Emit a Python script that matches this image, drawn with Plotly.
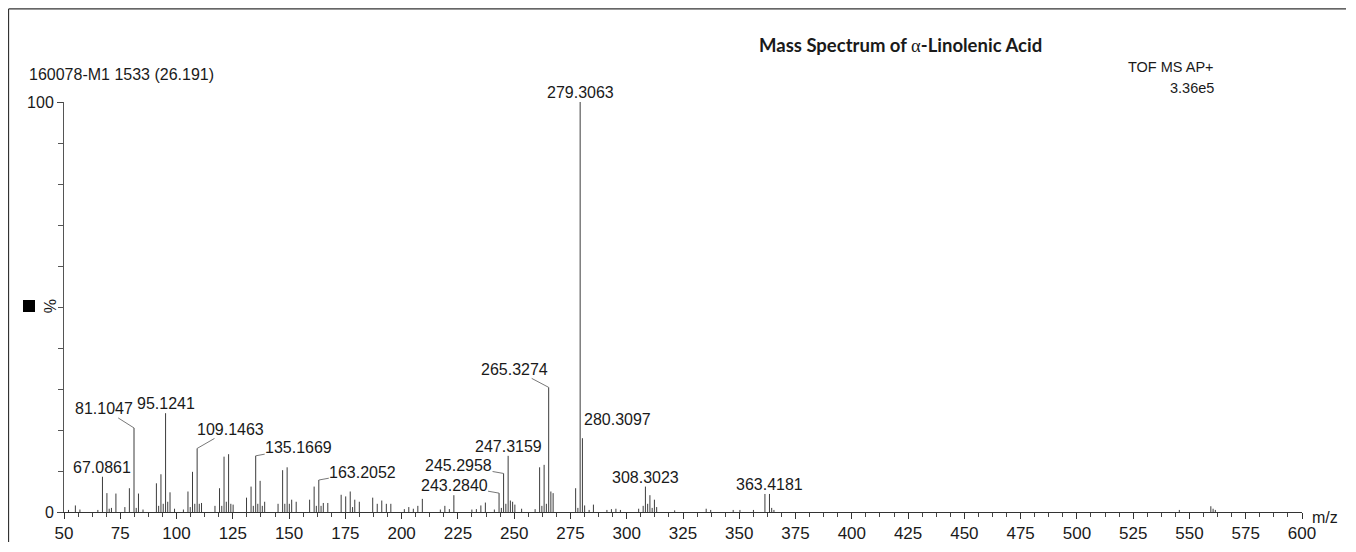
import plotly.graph_objects as go

# ---------------- data ----------------
# labelled peaks: m/z and relative intensity (%)
label_mz = [67.0861, 81.1047, 95.1241, 109.1463, 135.1669, 163.2052,
            243.2840, 245.2958, 247.3159, 265.3274, 279.3063, 280.3097,
            308.3023, 363.4181]
label_int = [8.6, 20.5, 24.1, 15.5, 13.7, 7.8,
             4.6, 9.4, 13.7, 30.4, 100.0, 18.0,
             6.2, 4.4]

# unlabelled peaks
minor_mz = [52.0, 55.05, 57.07, 65.04, 69.07, 70.07, 71.08, 73.06, 77.04, 79.05,
            82.08, 83.09, 85.1, 91.05, 92.06, 93.07, 94.08, 96.09, 97.1, 99.1,
            103.05, 105.07, 106.08, 107.09, 108.1, 110.1, 111.1, 117.07, 119.09, 120.09,
            121.1, 122.1, 123.12, 124.12, 125.13, 131.09, 133.1, 134.1, 136.1, 137.13,
            138.1, 139.15, 145.1, 147.12, 148.1, 149.13, 150.1, 151.15, 153.16, 159.12,
            161.13, 162.1, 164.2, 165.2, 167.2, 173.13, 175.15, 177.16, 178.2, 179.18,
            181.2, 187.15, 189.16, 191.18, 193.2, 195.2, 201.2, 203.18, 205.2, 207.2,
            209.2, 217.2, 219.2, 221.2, 223.2, 231.2, 233.2, 235.2, 237.2, 241.2,
            244.3, 246.3, 248.3, 249.3, 250.3, 253.3, 259.3, 261.3, 262.3, 263.3,
            264.3, 266.3, 267.3, 277.3, 278.3, 281.3, 283.3, 285.2, 291.2, 293.2,
            295.2, 297.2, 305.3, 307.3, 309.3, 310.3, 311.3, 312.3, 313.3, 321.3,
            335.3, 337.3, 347.3, 350.3, 356.3, 361.4, 364.4, 365.4, 545.5, 559.5,
            560.5, 561.5]
minor_int = [0.5, 1.6, 0.6, 0.5, 4.6, 0.8, 1.0, 4.5, 1.2, 5.8,
             1.0, 4.5, 0.6, 7.0, 1.5, 9.2, 2.0, 2.5, 4.8, 0.8,
             0.6, 5.0, 1.2, 9.8, 2.0, 2.0, 2.2, 1.5, 5.8, 1.5,
             13.5, 2.5, 14.1, 2.0, 1.8, 3.5, 6.2, 1.5, 2.0, 7.6,
             1.5, 2.5, 2.0, 10.2, 2.0, 10.9, 2.0, 3.0, 2.5, 3.0,
             6.2, 1.5, 1.5, 2.2, 2.2, 4.2, 3.8, 5.0, 1.2, 3.0,
             2.5, 3.5, 2.0, 2.8, 2.0, 2.0, 0.7, 1.2, 0.8, 1.5,
             3.2, 0.6, 1.5, 0.7, 4.1, 0.6, 0.7, 1.6, 2.3, 0.6,
             1.0, 2.0, 2.8, 2.5, 1.8, 0.8, 0.7, 10.9, 1.5, 11.5,
             2.0, 5.0, 4.6, 5.8, 1.0, 1.6, 0.5, 1.8, 0.5, 0.7,
             0.8, 0.5, 0.8, 1.5, 2.0, 4.1, 1.0, 3.0, 1.2, 0.4,
             0.8, 0.5, 0.5, 0.5, 0.5, 4.4, 1.0, 0.5, 0.5, 1.4,
             0.8, 0.5]

x_ticks = [50, 75, 100, 125, 150, 175, 200, 225, 250, 275, 300, 325,
           350, 375, 400, 425, 450, 475, 500, 525, 550, 575, 600]

header_left = "160078-M1 1533 (26.191)"
header_right = ["TOF MS AP+", "3.36e5"]
title_text = "Mass Spectrum of α-Linolenic Acid"

# ---------------- figure ----------------
FONT = "Liberation Sans"
all_mz = minor_mz + label_mz
all_int = minor_int + label_int
xs, ys = [], []
for m, h in zip(all_mz, all_int):
    xs += [m, m, None]
    ys += [0, h, None]

fig = go.Figure()
fig.add_trace(go.Scatter(x=xs, y=ys, mode="lines",
                         line=dict(color="#3c3c3c", width=1),
                         hoverinfo="skip", showlegend=False))

# label placement: (mode, ax, ay)
label_style = {
    67.0861: ("above", 0, 0),
    81.1047: ("arrow", -30, -19),
    95.1241: ("above", 0, 0),
    109.1463: ("arrow", 33, -19),
    135.1669: ("arrow", 43, -8),
    163.2052: ("arrow", 44, -8),
    243.2840: ("arrow", -45, -8),
    245.2958: ("arrow", -45, -8),
    247.3159: ("above", 0, 0),
    265.3274: ("arrow", -34, -18),
    279.3063: ("above", 0, 0),
    280.3097: ("right", 0, 9),
    308.3023: ("above", 0, 0),
    363.4181: ("above", 0, 0),
}
lab_font = dict(family=FONT, size=16, color="#1a1a1a")
for m, h in zip(label_mz, label_int):
    mode, ax, ay = label_style[m]
    txt = f"{m:.4f}"
    if mode == "arrow":
        fig.add_annotation(x=m, y=h, text=txt, showarrow=True, arrowhead=0,
                           arrowwidth=0.8, arrowcolor="#555", ax=ax, ay=ay,
                           font=lab_font, borderpad=0)
    elif mode == "above":
        fig.add_annotation(x=m, y=h, text=txt, showarrow=False,
                           yanchor="bottom", xanchor="center", font=lab_font,
                           borderpad=0)
    else:
        fig.add_annotation(x=m, y=h, text=txt, showarrow=False,
                           yanchor="bottom", xanchor="left", xshift=1, yshift=ay,
                           font=lab_font, borderpad=0)

# header texts
fig.add_annotation(xref="paper", yref="paper", x=-0.0299, y=1.0659,
                   text=header_left, showarrow=False, xanchor="left", yanchor="middle",
                   font=dict(family=FONT, size=16, color="#1a1a1a"))
fig.add_annotation(xref="paper", yref="paper", x=0.9303, y=1.086,
                   text=header_right[0], showarrow=False, xanchor="right", yanchor="middle",
                   font=dict(family=FONT, size=14.5, color="#1a1a1a"))
fig.add_annotation(xref="paper", yref="paper", x=0.9303, y=1.0334,
                   text=header_right[1], showarrow=False, xanchor="right", yanchor="middle",
                   font=dict(family=FONT, size=14.5, color="#1a1a1a"))
t_parts = title_text.split("α")
fig.add_annotation(xref="paper", yref="paper", x=0.676, y=1.139,
                   text="<b>" + t_parts[0] + "</b><span style='font-family:Liberation Serif'>α</span><b>" + t_parts[1] + "</b>",
                   showarrow=False, xanchor="center", yanchor="middle",
                   font=dict(family="Lato", size=18.5, color="#1a1a1a"))
fig.add_annotation(xref="paper", yref="paper", x=1.0065, y=-0.0146,
                   text="m/z", showarrow=False, xanchor="left", yanchor="middle",
                   font=dict(family=FONT, size=16, color="#1a1a1a"))
fig.add_annotation(xref="paper", yref="paper", x=-0.0113, y=0.502,
                   text="%", showarrow=False, textangle=-90,
                   xanchor="center", yanchor="middle",
                   font=dict(family=FONT, size=16, color="#1a1a1a"))

# black square marker and page frame
fig.add_shape(type="rect", xref="paper", yref="paper",
              x0=-0.0331, x1=-0.0234, y0=0.4878, y1=0.5171,
              fillcolor="black", line=dict(width=0))
fig.add_shape(type="line", xref="paper", yref="paper",
              x0=-0.0448, x1=-0.0448, y0=1.227, y1=-0.1, line=dict(color="#333", width=1.2))
fig.add_shape(type="line", xref="paper", yref="paper",
              x0=-0.0448, x1=1.045, y0=1.227, y1=1.227, line=dict(color="#333", width=1.2))

# the page body has an 8px default margin, so the figure is offset by 8px
fig.update_layout(
    width=1338, height=534,
    margin=dict(l=56, r=44, t=94, b=30, autoexpand=False),
    paper_bgcolor="white", plot_bgcolor="white",
    font=dict(family=FONT, color="#1a1a1a"),
    xaxis=dict(range=[50, 600], tickmode="array", tickvals=x_ticks,
               ticks="outside", ticklen=6, tickcolor="#333", automargin=False,
               showline=True, linecolor="#333", linewidth=1,
               showgrid=False, zeroline=False,
               tickfont=dict(family=FONT, size=17, color="#1a1a1a"),
               minor=dict(dtick=6.25, tick0=50, ticks="outside", ticklen=4,
                          tickcolor="#444", showgrid=False)),
    yaxis=dict(range=[0, 100], tickmode="linear", tick0=0, dtick=100,
               ticks="outside", ticklen=6, tickcolor="#444", automargin=False,
               showline=True, linecolor="#555", linewidth=1,
               showgrid=False, zeroline=False,
               tickfont=dict(family=FONT, size=16, color="#1a1a1a"),
               minor=dict(dtick=10, ticks="outside", ticklen=5,
                          tickcolor="#555", showgrid=False)),
)

fig.write_html("out.html")
